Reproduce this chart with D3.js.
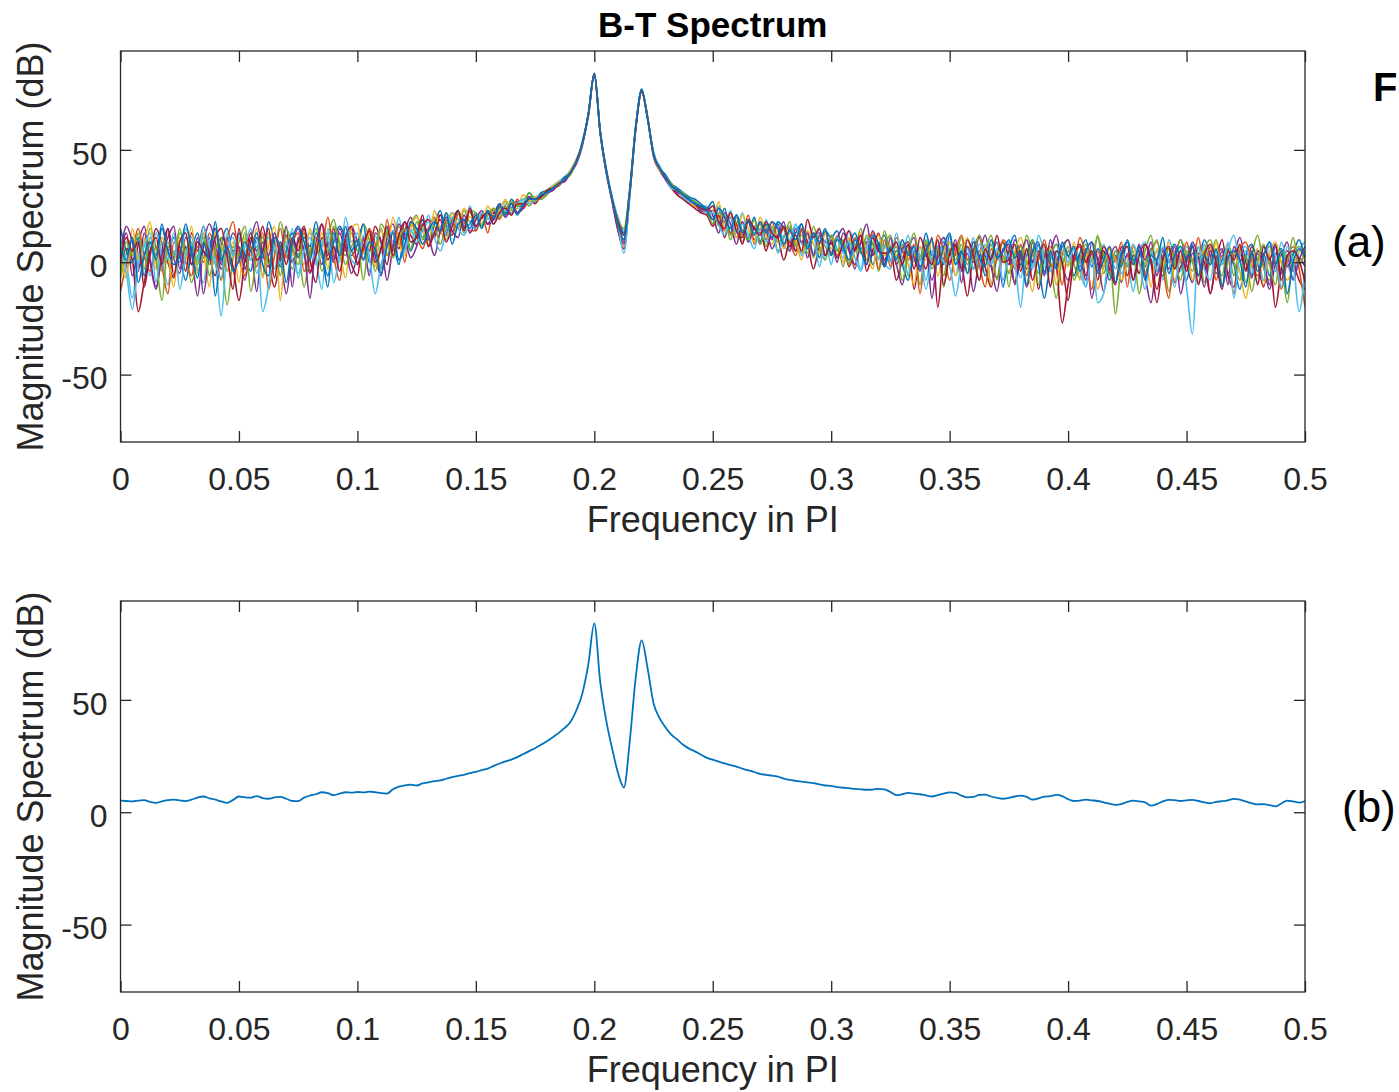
<!DOCTYPE html>
<html lang="en">
<head>
<meta charset="UTF-8">
<title>B-T Spectrum</title>
<script src="https://cdn.jsdelivr.net/npm/d3@7"></script>
<style>
  body { margin: 0; background: #fff; }
  svg { display: block; font-family: "Liberation Sans", Arial, Helvetica, sans-serif; }
</style>
</head>
<body>
<script>
// frequency bins: 0 .. 0.5 (x PI), one value every 0.0025
const binStep = 0.0025;
const xTicks = [0, 0.05, 0.1, 0.15, 0.2, 0.25, 0.3, 0.35, 0.4, 0.45, 0.5];
const xTickLabels = ['0', '0.05', '0.1', '0.15', '0.2', '0.25', '0.3', '0.35', '0.4', '0.45', '0.5'];
const yTicks = [-50, 0, 50];
const yTickLabels = ['-50', '0', '50'];
const yLimits = [-80, 94];

// (b) averaged spectrum, dB
const avgSpec = [
  5.2,5.0,4.8,5.2,5.4,4.6,4.2,4.8,5.4,5.6, 5.3,4.9,5.6,6.5,7.0,6.2,5.6,4.8,4.2,5.5,
  7.0,6.6,6.5,7.2,6.3,6.0,6.6,6.8,6.0,5.0, 4.9,6.5,7.4,8.0,8.9,8.5,7.6,8.3,8.9,8.7,
  9.0,8.8,9.2,8.9,8.5,8.3,10.2,11.4,12.0,12.3, 11.9,12.8,13.3,13.8,14.2,14.9,15.6,16.2,16.6,17.4,
  18.0,18.7,19.4,20.6,21.7,22.6,23.4,24.5,25.9,27.2, 28.5,30.0,31.6,33.4,35.3,37.5,40.3,45.5,53,66,
  84,58,41,28.5,17.5,11,32,60,76.5,64, 48.5,42,37.8,34.5,32.4,30.0,28.3,27.1,25.6,24.2,
  23.4,22.5,21.7,21.0,20.3,19.4,18.6,17.9,17.1,16.6, 16.3,15.8,15.0,14.4,14.0,13.6,13.3,13.0,12.4,11.9,
  11.7,11.2,10.9,10.7,10.4,10.2,10.0,10.1,10.4,10.2, 9.0,7.6,8.0,8.6,8.3,8.0,7.5,7.0,7.6,8.3,
  8.8,8.6,7.4,6.6,6.8,7.7,7.8,7.0,6.4,6.0, 6.4,7.0,7.4,6.8,5.6,6.2,6.9,7.2,7.7,7.2,
  5.8,5.0,5.2,5.6,5.3,5.0,4.4,3.8,3.3,3.6, 4.6,5.2,4.8,4.4,2.9,3.6,4.8,5.5,5.4,5.0,
  5.3,5.5,5.0,4.4,4.0,4.6,4.9,5.3,5.9,5.6, 4.8,4.0,3.5,3.6,3.2,2.6,3.9,5.2,4.8,4.3,
  5.0
];

// (a) individual realizations, dB
const run01 = [2,13,-6,8,16,0,-12,5,15,2,-5,11,4,-15,7,17,9,-3,4,13,6,-8,9,18,4,-2,11,2,-14,6,15,4,-5,9,17,7,0,13,5,16,
  9,1,15,3,-6,11,17,8,14,20,12,19,7,17,21,13,19,22,15,23,15,21,17,22,24,20,24,27,24,28,
  27,29,31,33,35,37,40,45,53,66,84,58,41,28,16,9,31,60,76,64,48,42,37,33,32,29,27,26,23,22,
  17,24,14,20,11,18,9,16,8,15,10,17,7,15,5,14,2,12,13,3,10,0,13,7,-3,9,4,14,6,-2,
  6,-1,-10,5,11,-2,3,-8,2,9,0,8,-4,4,-13,2,12,-1,-7,6,-1,10,3,-11,0,8,-4,4,12,-1,-8,3,-2,6,-16,0,5,-5,2,-9,4,-1,8,-6,-18,1,6,-3,3,10,-1,-9,4,0,-14,1,6,-5,3,11,0,-7,4,-2,-12,-1,3,9,-4,2,-2];
const run02 = [-7,4,11,-2,2,15,7,-4,9,1,13,6,-9,2,11,-1,15,4,-19,2,9,16,1,7,-6,13,5,18,7,-3,4,-11,5,15,2,11,19,7,3,13,
  5,17,10,-4,7,14,5,16,10,17,21,10,15,19,13,22,17,15,23,18,20,16,23,19,24,27,23,26,28,25,
  28,28,30,33,34,37,39,45,53,66,84,58,40,28,18,12,33,60,77,64,49,41,38,35,31,30,28,25,24,23,
  25,16,21,12,20,9,18,13,17,7,16,5,11,16,8,4,14,2,11,7,3,11,-2,10,6,15,1,9,-4,7,
  12,2,8,-6,4,-10,10,1,6,-6,9,3,11,-1,6,-8,4,12,1,9,-11,5,-2,12,4,-5,7,0,-16,3,10,-1,-7,5,1,12,-5,3,-23,0,7,1,-5,5,12,-4,3,-13,0,10,3,-4,7,-9,1,10,-1,5,-6,7,-9,3,12,-2,-8,4,0,-18,3,7,1];
const run03 = [11,0,-16,3,9,-6,13,2,-10,5,0,15,7,-3,-9,9,2,-24,5,11,0,7,15,-5,5,11,-3,9,3,15,-7,7,13,2,-12,15,7,0,20,9,
  13,6,-4,12,4,15,9,20,6,14,15,11,21,12,16,18,22,19,17,25,16,22,19,23,21,26,24,22,28,29,
  29,30,32,34,36,38,41,46,53,65,84,59,41,29,20,14,33,61,76,63,48,43,38,34,33,31,29,27,25,25,
  19,25,16,23,13,22,12,20,9,19,11,18,8,5,17,8,12,4,15,1,12,6,2,14,8,-3,11,4,9,0,
  -3,9,4,12,0,7,-8,5,-1,11,5,-6,6,1,11,-2,8,-10,4,0,9,2,-7,6,-1,12,4,-4,5,2,-1,6,1,-11,4,-2,8,0,5,-5,-1,-13,4,9,-1,5,-8,10,2,-4,7,1,-6,8,-1,5,-10,5,12,0,5,-1,-9,7,2,-4,9,0,-7,5,9];
const run04 = [-2,6,1,-22,-9,3,15,8,0,-7,7,-4,13,5,16,3,-6,11,7,-2,-17,1,13,5,16,1,-11,3,12,0,9,16,1,-9,11,3,15,2,9,-1,
  -6,11,5,16,9,-1,14,6,18,12,8,16,19,11,21,16,12,22,18,23,14,20,17,21,26,22,27,22,25,29,
  26,30,31,32,35,36,40,44,52,66,83,57,41,27,14,6,30,59,76,65,47,41,37,33,30,28,26,24,22,21,
  16,21,11,20,17,8,18,10,15,5,14,11,1,9,5,15,9,-3,8,13,4,11,9,-2,6,12,-4,5,13,1,
  6,-8,1,8,-12,3,-3,11,-20,2,-1,7,0,-15,5,11,-2,-11,3,9,2,-9,5,-3,9,-12,2,7,-1,-27,-10,2,7,-6,4,-8,5,-3,-10,7,-6,3,-5,8,1,-12,2,6,-9,-2,2,7,-6,4,-14,0,10,-6,-11,4,-3,7,0,-11,3,-20,-3,5,0,-8,-12];
const run05 = [15,5,0,11,-6,9,3,17,5,11,3,-8,5,13,2,11,-15,7,15,3,13,3,-4,11,2,18,9,-2,5,13,2,11,7,18,5,-6,9,16,11,3,
  8,17,0,5,15,3,8,-1,13,5,13,19,10,17,23,12,19,23,16,17,22,17,23,19,26,22,28,25,25,31,
  28,31,32,34,35,38,40,45,54,66,84,58,42,29,19,13,32,60,77,64,49,42,39,35,33,31,29,28,26,24,
  27,17,24,13,21,14,11,20,9,17,11,18,15,9,13,17,6,12,2,14,11,14,5,8,13,6,9,-1,7,12,
  1,5,-1,-8,5,1,13,3,7,-1,12,-1,4,7,-3,5,-6,2,9,-11,5,12,-1,3,10,-1,-16,1,8,4,3,-6,4,10,-2,6,1,-8,3,-2,10,1,5,-2,6,0,-6,3,8,1,-8,4,1,10,3,-5,1,6,-1,-12,3,8,1,4,-6,3,6,-2,4,10,0];
const run06 = [-13,-1,5,15,3,-4,7,-2,-14,9,5,0,-6,7,0,13,5,-8,9,18,2,-6,7,-2,13,-12,3,15,2,9,13,-4,3,11,7,20,3,-8,9,5,
  0,5,15,8,-3,19,5,13,0,18,12,6,15,20,13,19,12,22,18,14,14,22,13,24,19,25,21,28,24,27,
  27,29,32,33,34,37,40,45,53,66,84,58,41,28,17,10,31,60,76,64,48,42,38,34,31,30,27,26,25,22,
  23,20,18,13,17,12,21,8,18,10,18,11,15,9,3,15,8,13,7,3,12,3,8,-1,11,4,8,13,-3,10,
  -2,11,5,1,8,-14,6,-1,12,5,-8,5,12,1,9,-1,-11,6,1,10,6,-3,8,-6,5,1,10,-2,3,-10,5,0,11,2,-12,5,-2,7,0,9,-11,7,0,-5,5,9,-2,-16,5,0,9,0,11,-2,7,-8,3,2,-14,5,9,0,-6,3,7,0,-12,1,7,-3,-20];
const run07 = [5,-7,15,1,9,18,-3,11,3,-11,11,1,16,-5,3,-11,13,7,1,9,-9,11,3,15,-7,7,16,-17,11,3,7,-1,15,5,13,-3,11,5,-7,15,
  17,4,13,-2,15,3,20,9,3,15,20,15,8,23,14,10,22,17,24,20,21,17,25,21,23,28,23,24,30,27,
  29,30,31,34,36,37,41,46,53,66,84,58,41,28,18,7,32,60,76,64,48,41,38,34,32,29,28,25,24,23,
  19,27,14,22,11,21,15,9,20,12,8,14,6,13,10,1,14,8,4,13,6,12,0,11,-2,13,5,-3,12,3,
  8,3,10,-1,-10,7,1,9,-6,5,9,-6,2,11,0,4,7,-10,5,2,-4,5,11,0,-13,5,-2,7,-10,5,-2,9,-8,2,5,-12,-2,6,1,-8,0,8,-1,3,-11,6,-2,9,-8,2,5,-8,2,5,-1,9,-10,0,4,-4,-16,-1,6,-10,4,9,0,-8,-2,5,1];
const run08 = [3,16,9,-4,13,1,-11,3,11,16,-3,7,-1,11,-14,5,15,-1,11,5,7,-3,5,-13,9,3,13,5,16,-11,11,5,-16,7,-1,9,1,15,7,-5,
  3,10,-6,13,9,-8,7,17,11,2,7,17,12,3,14,20,14,11,21,13,19,23,17,19,25,21,26,22,24,29,
  28,29,31,32,35,36,40,45,53,65,83,58,40,28,15,8,31,60,76,64,48,42,37,34,31,30,27,26,23,24,
  21,13,22,17,8,18,9,15,13,14,6,12,18,5,15,9,13,3,12,9,8,11,15,5,-1,9,17,3,8,-1,
  11,-1,6,9,2,-4,8,-16,5,11,3,10,-9,7,0,12,3,-2,-13,5,8,-10,3,10,0,5,-6,10,1,7,10,1,3,-8,9,1,-13,1,7,0,3,-8,7,1,9,-6,5,0,7,-14,0,9,2,-11,5,-2,5,-10,7,1,2,-6,5,1,-10,7,-5,3,-8,1,7];
const run09 = [-6,9,3,13,-3,11,1,-17,7,3,15,3,9,-1,13,-6,5,11,-4,7,3,13,-13,3,11,-1,7,-6,15,7,-1,13,3,9,-4,5,16,9,-1,7,
  10,-8,9,5,17,12,2,10,15,6,18,11,14,16,8,17,19,22,13,23,22,16,21,24,20,23,27,25,26,31,
  27,30,32,33,35,37,40,45,53,66,84,58,41,28,19,15,33,61,76,64,48,42,38,35,32,31,28,27,25,23,
  17,22,20,10,18,14,10,19,8,16,15,9,11,18,7,12,4,16,6,1,12,5,10,-1,8,4,12,8,2,14,
  4,7,-8,4,13,1,9,-3,6,-11,6,1,8,-5,3,12,1,8,-8,3,-5,3,7,-1,10,-10,5,4,8,-1,7,-8,1,8,0,11,3,-6,5,1,-2,5,-14,0,3,10,-4,6,1,-8,5,0,-9,5,10,1,-6,8,0,-8,3,-13,1,8,-1,-10,5,1,11,-1,5];
const run10 = [9,-5,-21,-1,7,13,-9,9,1,13,-12,3,11,1,16,7,-1,-7,13,3,11,5,1,9,-22,-11,7,-1,9,1,-5,5,11,-1,7,13,-9,3,13,1,
  -1,12,3,-14,-1,7,14,1,5,14,9,14,18,11,5,14,20,15,12,17,15,22,20,17,22,23,22,26,28,26,
  28,30,31,33,35,37,40,45,53,66,84,58,41,28,17,4,30,60,76,64,49,42,38,33,32,29,27,26,24,22,
  22,17,12,20,13,17,12,6,15,9,15,4,12,10,17,3,7,12,-2,10,-1,11,4,9,2,-4,7,11,1,8,
  0,13,1,-5,7,3,-12,2,7,0,-2,-15,0,6,-3,8,4,-1,6,-8,3,-1,-20,5,-3,7,1,-10,3,8,0,6,-4,-11,2,-18,-14,4,-3,5,-1,8,0,-12,5,-4,7,1,-11,6,-11,-32,7,-3,-8,5,-1,9,-16,3,7,-5,0,-8,9,3,-11,7,0,-22,-3];
const run11 = [0,11,5,9,-11,5,11,-1,15,-6,9,13,-1,9,5,2,11,15,3,-12,15,0,11,1,5,15,-7,9,-1,11,5,15,-4,3,17,1,7,-4,11,16,
  -1,7,14,0,6,16,3,12,18,9,11,21,7,13,19,9,16,23,14,24,16,20,22,17,22,24,21,26,26,28,
  28,29,32,33,35,37,40,45,53,66,84,58,41,28,18,12,32,60,76,64,48,42,38,34,32,30,28,26,24,23,
  25,18,15,22,14,11,19,15,12,18,13,11,16,7,12,5,19,11,15,3,9,2,8,14,5,12,-1,11,5,4,
  5,9,-1,8,-3,11,4,-1,10,-10,4,8,-3,10,3,-8,6,1,12,0,1,8,-4,6,-8,3,8,-11,5,0,-17,3,8,0,5,-4,7,1,-9,3,7,-8,3,8,0,-18,1,7,-3,5,-4,7,-10,3,8,0,-12,5,1,8,-4,4,-10,7,1,8,-8,3,5,1,-9];
const run12 = [7,1,11,-9,3,9,1,15,5,-1,3,17,5,-7,9,1,18,1,7,-4,1,9,5,13,-1,-6,11,7,-9,9,16,9,1,13,5,-11,13,3,16,5,
  10,1,9,6,-5,7,13,1,8,18,15,8,14,18,14,22,8,17,19,15,21,15,23,20,25,21,26,21,26,28,
  28,30,31,33,35,37,40,45,53,66,84,58,41,28,17,10,32,60,77,64,48,42,38,34,32,30,28,26,25,23,
  19,24,20,15,21,13,19,12,18,13,18,15,8,14,10,17,6,13,9,15,3,10,7,1,10,5,-1,12,8,-2,
  7,1,10,3,7,-3,5,10,-1,7,13,-1,5,-5,9,2,-2,10,2,5,10,2,5,-10,5,9,-5,5,-3,9,3,7,-4,5,9,-5,1,7,-9,4,9,-1,7,-8,3,1,11,-5,3,7,1,8,-6,3,-1,6,-11,2,5,1,-11,5,-4,3,9,-1,5,-14,0,6,2];
const runs = [run01, run02, run03, run04, run05, run06, run07, run08, run09, run10, run11, run12];

const lineColors = ['#0072BD', '#D95319', '#EDB120', '#7E2F8E', '#77AC30', '#4DBEEE', '#A2142F'];

const width = 1399;
const height = 1092;
const axColor = '#262626';

const svg = d3.select('body').append('svg')
  .attr('width', width).attr('height', height)
  .attr('viewBox', `0 0 ${width} ${height}`);

const x = d3.scaleLinear().domain([0, 0.5]).range([120.5, 1305]);
const freq = d => d3.range(d.length).map(i => i * binStep);

function drawPanel(top, series, colorOf, lineW, id) {
  const plotH = 391;
  const y = d3.scaleLinear().domain(yLimits).range([top + plotH, top]);
  const g = svg.append('g');

  g.append('clipPath').attr('id', id)
    .append('rect')
    .attr('x', x(0)).attr('y', top)
    .attr('width', x(0.5) - x(0)).attr('height', plotH);

  const line = d3.line()
    .x(d => x(d[0]))
    .y(d => y(d[1]))
    .curve(d3.curveMonotoneX);

  const lines = g.append('g').attr('clip-path', `url(#${id})`);
  series.forEach((s, k) => {
    const f = freq(s);
    lines.append('path')
      .datum(s.map((v, i) => [f[i], v]))
      .attr('fill', 'none')
      .attr('stroke', colorOf(k))
      .attr('stroke-width', lineW)
      .attr('stroke-linejoin', 'round')
      .attr('d', line);
  });

  // axes, ticks pointing inwards on all four sides
  const tk = 11;
  g.append('g')
    .attr('transform', `translate(0,${top + plotH})`)
    .call(d3.axisBottom(x).tickValues(xTicks).tickSizeInner(-tk).tickSizeOuter(0).tickPadding(25)
      .tickFormat((d, i) => xTickLabels[i]));
  g.append('g')
    .attr('transform', `translate(0,${top})`)
    .call(d3.axisTop(x).tickValues(xTicks).tickSizeInner(-tk).tickSizeOuter(0).tickFormat(''));
  const leftAx = g.append('g')
    .attr('transform', `translate(${x(0)},0)`)
    .call(d3.axisLeft(y).tickValues(yTicks).tickSizeInner(-tk).tickSizeOuter(0).tickPadding(13)
      .tickFormat((d, i) => yTickLabels[i]));
  g.append('g')
    .attr('transform', `translate(${x(0.5)},0)`)
    .call(d3.axisRight(y).tickValues(yTicks).tickSizeInner(-tk).tickSizeOuter(0).tickFormat(''));

  g.selectAll('.domain').remove();
  g.selectAll('.tick line').attr('stroke', axColor).attr('stroke-width', 1.3);
  g.selectAll('.tick text').attr('fill', axColor).style('font-size', '32px');
  leftAx.selectAll('.tick text').attr('dy', '0.45em');

  g.append('rect')
    .attr('x', x(0)).attr('y', top)
    .attr('width', x(0.5) - x(0)).attr('height', plotH)
    .attr('fill', 'none').attr('stroke', axColor).attr('stroke-width', 1.3);

  g.append('text')
    .attr('x', (x(0) + x(0.5)) / 2).attr('y', top + plotH + 90)
    .attr('text-anchor', 'middle').attr('fill', axColor)
    .style('font-size', '36px')
    .text('Frequency in PI');

  g.append('text')
    .attr('transform', `translate(43,${top + plotH / 2}) rotate(-90)`)
    .attr('text-anchor', 'middle').attr('fill', axColor)
    .style('font-size', '36px')
    .text('Magnitude Spectrum (dB)');

  return g;
}

drawPanel(51, runs, k => lineColors[(k + 3) % lineColors.length], 1.6, 'clipA');
drawPanel(601, [avgSpec], () => lineColors[0], 1.8, 'clipB');

svg.append('text')
  .attr('x', (x(0) + x(0.5)) / 2).attr('y', 37)
  .attr('text-anchor', 'middle').attr('fill', '#000')
  .style('font-size', '35px').style('font-weight', 'bold')
  .text('B-T Spectrum');

// side annotations
svg.append('text').attr('x', 1373).attr('y', 101)
  .style('font-size', '40px').style('font-weight', 'bold').text('F');
svg.append('text').attr('x', 1332).attr('y', 257)
  .style('font-size', '44px').text('(a)');
svg.append('text').attr('x', 1342).attr('y', 822)
  .style('font-size', '44px').text('(b)');
</script>
</body>
</html>
